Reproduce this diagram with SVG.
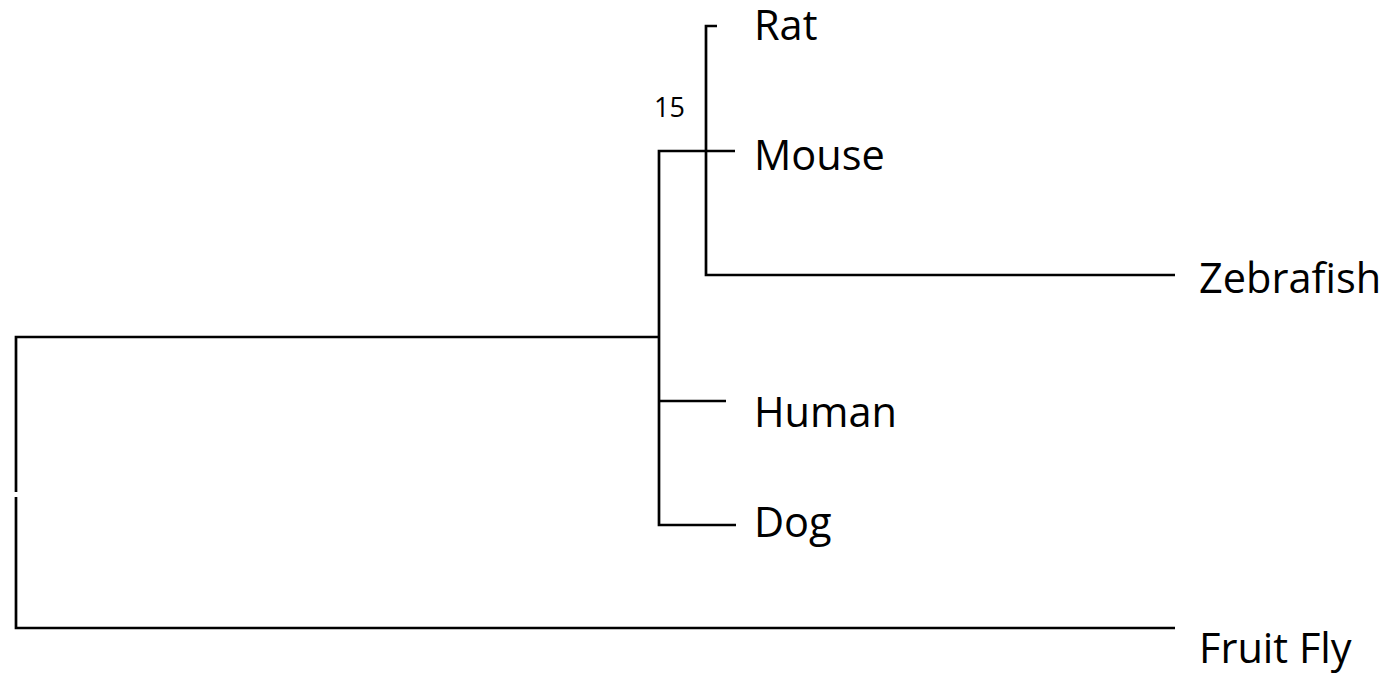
<svg xmlns="http://www.w3.org/2000/svg" width="1389" height="681" viewBox="0 0 1389 681">
  <style>
    .br { fill: none; stroke: #000; stroke-width: 2.7; stroke-linecap: butt; stroke-linejoin: miter; }
    .lbl { font-family: "Open Sans", "Liberation Sans", sans-serif; font-size: 41.5px; fill: #000; }
    .sup { font-family: "Open Sans", "Liberation Sans", sans-serif; font-size: 27px; fill: #000; }
  </style>
  <rect width="1389" height="681" fill="#fff"/>
  <g id="connectors">
    <!-- root split: upper clade and Fruit Fly -->
    <path class="br" d="M659,337 H16 V492"/>
    <path class="br" d="M16,497 V628 H1175"/>
    <!-- mammal + fish clade -->
    <path class="br" d="M735,151 H659 V525 H736"/>
    <path class="br" d="M659,401 H726"/>
    <!-- rodent / fish subclade -->
    <path class="br" d="M717,26 H706 V275 H1175"/>
  </g>
  <g id="support">
    <text class="sup" x="654" y="117">15</text>
  </g>
  <g id="node-rat"><text class="lbl" x="754" y="40">Rat</text></g>
  <g id="node-mouse"><text class="lbl" x="754" y="170">Mouse</text></g>
  <g id="node-zebrafish"><text class="lbl" x="1199" y="293">Zebrafish</text></g>
  <g id="node-human"><text class="lbl" x="754" y="427">Human</text></g>
  <g id="node-dog"><text class="lbl" x="754" y="537">Dog</text></g>
  <g id="node-fruitfly"><text class="lbl" x="1199" y="663">Fruit Fly</text></g>
</svg>
